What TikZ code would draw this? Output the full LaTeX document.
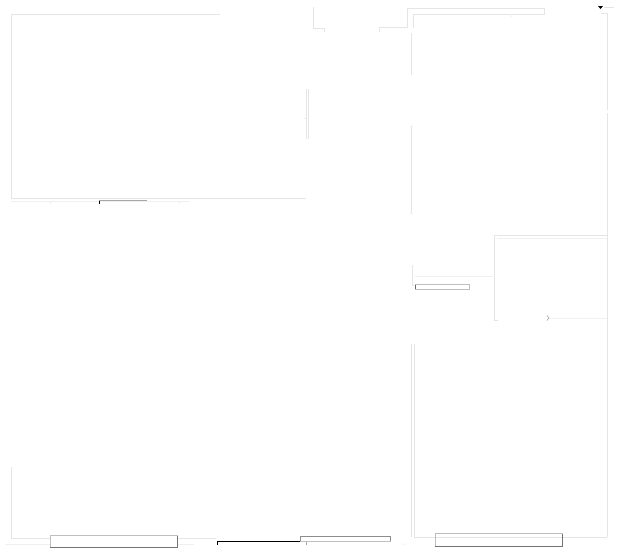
\documentclass[tikz,border=0pt]{standalone}
\begin{document}
\begin{tikzpicture}[x=1pt,y=-1pt,
  faint/.style={draw=black!10,line width=0.8pt},
  faintx/.style={draw=black!6,line width=0.8pt},
  btn/.style={draw=black!25,line width=0.8pt},
  btndark/.style={draw=black!55,line width=0.9pt}]
\useasboundingbox[fill=white] (0,0) rectangle (621,558);
% top-left panel
\draw[faint] (220,14) -- (11,14) -- (11,198) -- (306,198);
\draw[faint] (306,89) -- (306,139);
\draw[faint] (308.5,89) -- (308.5,139);
\draw[faintx] (304,118) -- (306,118);
% strip under top-left panel
\draw[faintx] (11,201.5) -- (190,201.5);
\draw[faintx] (50.5,201) -- (50.5,204);
\draw[faintx] (179,201) -- (179,204);
\draw[draw=black!35,line width=0.9pt] (99,200.5) -- (147,200.5);
\draw[draw=black,line width=0.8pt] (99,200.5) -- (99,203.5);
% top middle connectors
\draw[faint] (313,7) -- (313,28) -- (324,28) -- (324,32);
\draw[faint] (379,32) -- (379,27.5) -- (407,27.5) -- (407,8) -- (544,8) -- (544,14) -- (413,14) -- (413,28);
\draw[faintx] (511,14) -- (511,16.5);
% top right
\fill[black] (598,6) -- (603,6) -- (600.5,9) -- cycle;
\draw[faint] (604,7) -- (614,7);
\draw[faint] (601,13.5) -- (608,13.5);
\draw[faint] (607,14) -- (607,110);
\draw[faint] (607,113) -- (607,537);
% right column left edge
\draw[faint] (411,33) -- (411,75);
\draw[faint] (411,126) -- (411,213);
\draw[faintx] (410,126) -- (413,126);
\draw[faintx] (410,213) -- (413,213);
% right middle box
\draw[faint] (607,235) -- (494,235) -- (494,320) -- (498,320);
\draw[faintx] (497,238.5) -- (607,238.5);
\draw[faintx] (549,318) -- (607,318);
\draw[draw=black!35,line width=0.6pt] (547,315.5) .. controls (549.5,316.5) and (549.5,319.5) .. (547,320.5);
\draw[faint] (412,265) -- (412,285) -- (414,285);
\draw[faintx] (412,265) -- (414,265);
\draw[faintx] (415,276) -- (493,276);
\draw[btn] (415,284.5) rectangle (469,289);
\draw[draw=black!60,line width=0.9pt] (415,284.5) -- (415,289);
% right bottom panel
\draw[faint] (411,344) -- (411,537);
\draw[faint] (414,344) -- (414,537) -- (607,537);
\draw[btn] (435,533.5) rectangle (562,546.5);
\draw[btndark] (435,546.5) -- (562,546.5) -- (562,533.5);
% left bottom panel
\draw[faint] (11,467) -- (11,538) -- (50,538);
\draw[faint] (177,538) -- (216,538);
\draw[faintx] (5,544) -- (50,544);
\draw[faintx] (177,544) -- (194,544);
\draw[btn] (50,535.5) rectangle (177,547.5);
\draw[btndark] (50,547.5) -- (177,547.5) -- (177,535.5);
% small boxes at bottom centre
\draw[draw=black,line width=0.9pt] (217,545) -- (217,541) -- (306,541);
\draw[draw=black!35,line width=0.7pt] (306,541) -- (306,545);
\draw[btn] (300,536.5) rectangle (390,541);
\draw[draw=black!45,line width=0.8pt] (300,541) -- (300,536.5) -- (390,536.5) -- (390,541);
\fill[black!20] (403,544) circle (0.5);
\fill[black!20] (406,544) circle (0.5);
\end{tikzpicture}
\end{document}
